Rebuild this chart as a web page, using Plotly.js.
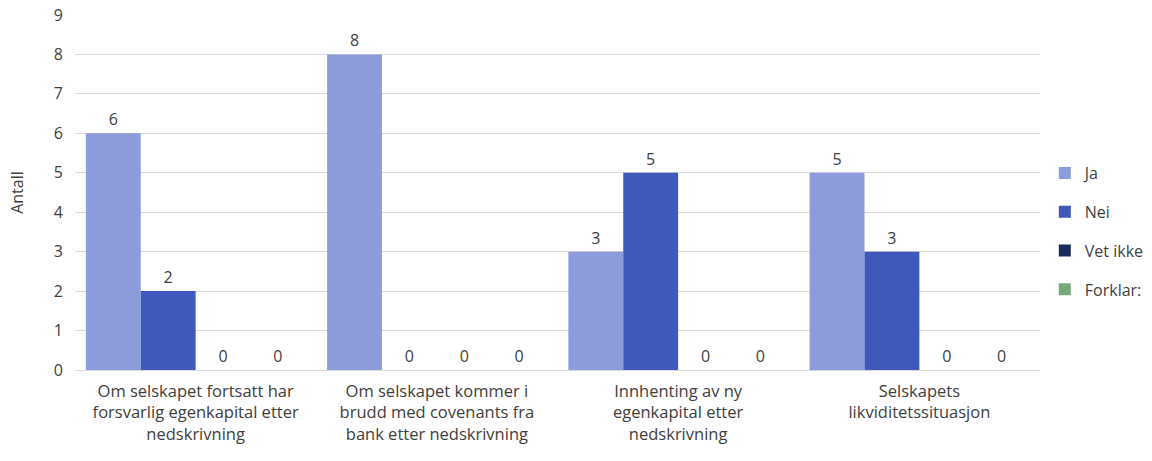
<!DOCTYPE html>
<html><head><meta charset="utf-8">
<script src="https://cdn.plot.ly/plotly-3.0.1.min.js"></script>
<style>body{margin:0;background:#fff}</style>
</head><body>
<div id="chart" style="width:1152px;height:461px"></div>
<script>
const categories = [
  "Om selskapet fortsatt har<br>forsvarlig egenkapital etter<br>nedskrivning",
  "Om selskapet kommer i<br>brudd med covenants fra<br>bank etter nedskrivning",
  "Innhenting av ny<br>egenkapital etter<br>nedskrivning",
  "Selskapets<br>likviditetssituasjon"
];
const seriesNames = ["Ja", "Nei", "Vet ikke", "Forklar:"];
const ja = [6, 8, 3, 5];
const nei = [2, 0, 5, 3];
const vetIkke = [0, 0, 0, 0];
const forklar = [0, 0, 0, 0];
const colors = ["#8c9bdb", "#3e59bb", "#1b2a5e", "#78a97b"];

const vals = [ja, nei, vetIkke, forklar];
const font = "'Open Sans', 'Liberation Sans', sans-serif";
const traces = vals.map((v, i) => ({
  type: "bar", name: seriesNames[i], x: categories, y: v,
  marker: {color: colors[i]},
  text: v.map(String), textposition: "outside", cliponaxis: false,
  textfont: {family: font, size: 16, color: "#404040"},
  legendgroup: "g" + i
}));
Plotly.newPlot("chart", traces, {
  width: 1152, height: 461,
  margin: {l: 75, r: 112, t: 15, b: 91, autoexpand: false},
  paper_bgcolor: "#fff", plot_bgcolor: "#fff",
  font: {family: font, size: 16, color: "#404040"},
  barmode: "group", bargap: 0.09, bargroupgap: 0,
  xaxis: {showgrid: false, showline: true, linecolor: "#d9d9d9", linewidth: 1,
          ticks: "", ticklabelstandoff: 6, tickfont: {size: 16.5, color: "#404040"}},
  yaxis: {range: [0, 9], dtick: 1, showgrid: true, gridcolor: "#d9d9d9",
          zeroline: false, ticks: "outside", ticklen: 8, tickcolor: "#fff",
          tickfont: {size: 16, color: "#404040"},
          title: {text: "Antall", font: {size: 16, color: "#404040"}, standoff: 26}},
  legend: {x: 1.005, y: 0.39, xanchor: "left", yanchor: "middle",
           traceorder: "grouped", tracegroupgap: 15,
           font: {size: 16, color: "#404040"}, itemwidth: 30},
  showlegend: true
}, {displayModeBar: false});
</script>
</body></html>
